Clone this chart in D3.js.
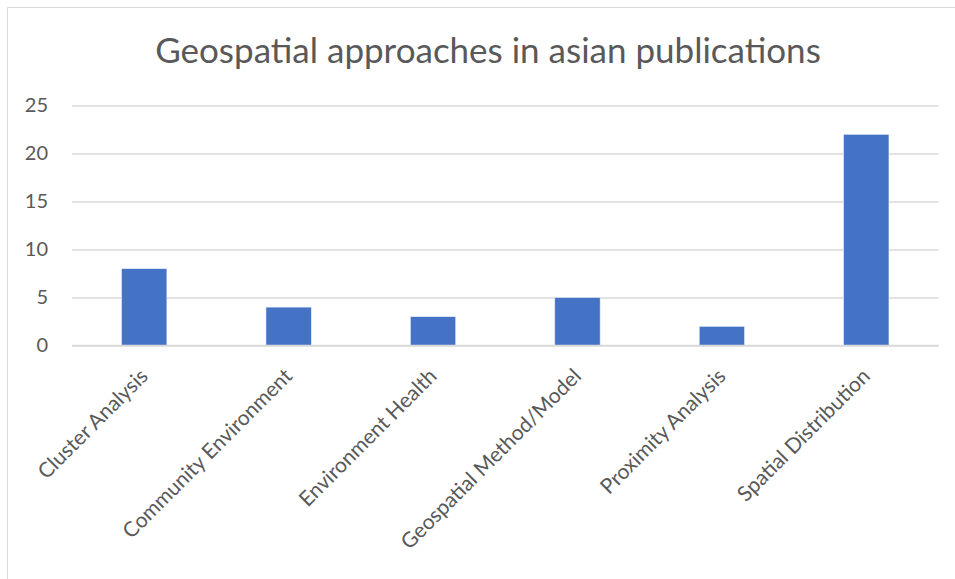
<!DOCTYPE html>
<html>
<head>
<meta charset="utf-8">
<script src="https://cdn.jsdelivr.net/npm/d3@7"></script>
<style>
  html, body { margin: 0; padding: 0; background: #fff; }
  svg { display: block; }
  text { font-family: Lato, "Open Sans", sans-serif; fill: #595959; }
</style>
</head>
<body>
<svg id="chart" width="955" height="579"></svg>
<script>
const title = "Geospatial approaches in asian publications";
const categories = ["Cluster Analysis", "Community Environment", "Environment Health",
                    "Geospatial Method/Model", "Proximity Analysis", "Spatial Distribution"];
const counts = [8, 4, 3, 5, 2, 22];
const yTicks = [0, 5, 10, 15, 20, 25];

const svg = d3.select("#chart");
const W = 955, H = 579;
const plot = { left: 72, right: 938.5, top: 105.5, bottom: 345.5 };

// chart frame (extends past the page edge on the right and bottom)
svg.append("rect")
  .attr("x", 7.5).attr("y", 7.5)
  .attr("width", W + 20).attr("height", H + 20)
  .attr("fill", "#fff").attr("stroke", "#d9d9d9").attr("stroke-width", 1);

svg.append("text")
  .attr("x", 488)
  .attr("y", 63)
  .attr("text-anchor", "middle")
  .style("font-size", "35px")
  .text(title);

const x = d3.scaleBand()
  .domain(categories)
  .range([plot.left, plot.right])
  .paddingInner(0.686)
  .paddingOuter(0.343);

const y = d3.scaleLinear()
  .domain([0, 25])
  .range([plot.bottom, plot.top]);

// gridlines + value labels
const yAxis = d3.axisLeft(y).tickValues(yTicks).tickSize(-(plot.right - plot.left)).tickPadding(24);
const gy = svg.append("g").attr("transform", `translate(${plot.left},0)`).call(yAxis);
gy.select(".domain").remove();
gy.selectAll(".tick line").attr("stroke", "#d9d9d9").attr("stroke-width", 1.3);
gy.selectAll(".tick text")
  .style("font-size", "20px")
  .attr("fill", "#595959");

// bars
svg.append("g").selectAll("rect")
  .data(counts)
  .join("rect")
  .attr("x", (d, i) => x(categories[i]))
  .attr("y", d => y(d))
  .attr("width", x.bandwidth())
  .attr("height", d => y(0) - y(d))
  .attr("fill", "#4472c4")
  .attr("stroke", "#e8eef8")
  .attr("stroke-width", 0.6);

// redraw the zero baseline above the bars
svg.append("line")
  .attr("x1", plot.left).attr("x2", plot.right)
  .attr("y1", y(0)).attr("y2", y(0))
  .attr("stroke", "#d9d9d9").attr("stroke-width", 1.3);

// rotated category labels
const xAxis = d3.axisBottom(x).tickSize(0).tickPadding(0);
const gx = svg.append("g").attr("transform", `translate(0,${plot.bottom})`).call(xAxis);
gx.select(".domain").remove();
gx.selectAll(".tick text")
  .style("font-size", "21px")
  .attr("fill", "#595959")
  .attr("text-anchor", "end")
  .attr("dy", null)
  .attr("y", 0)
  .attr("transform", "translate(5,32) rotate(-45)");
</script>
</body>
</html>
